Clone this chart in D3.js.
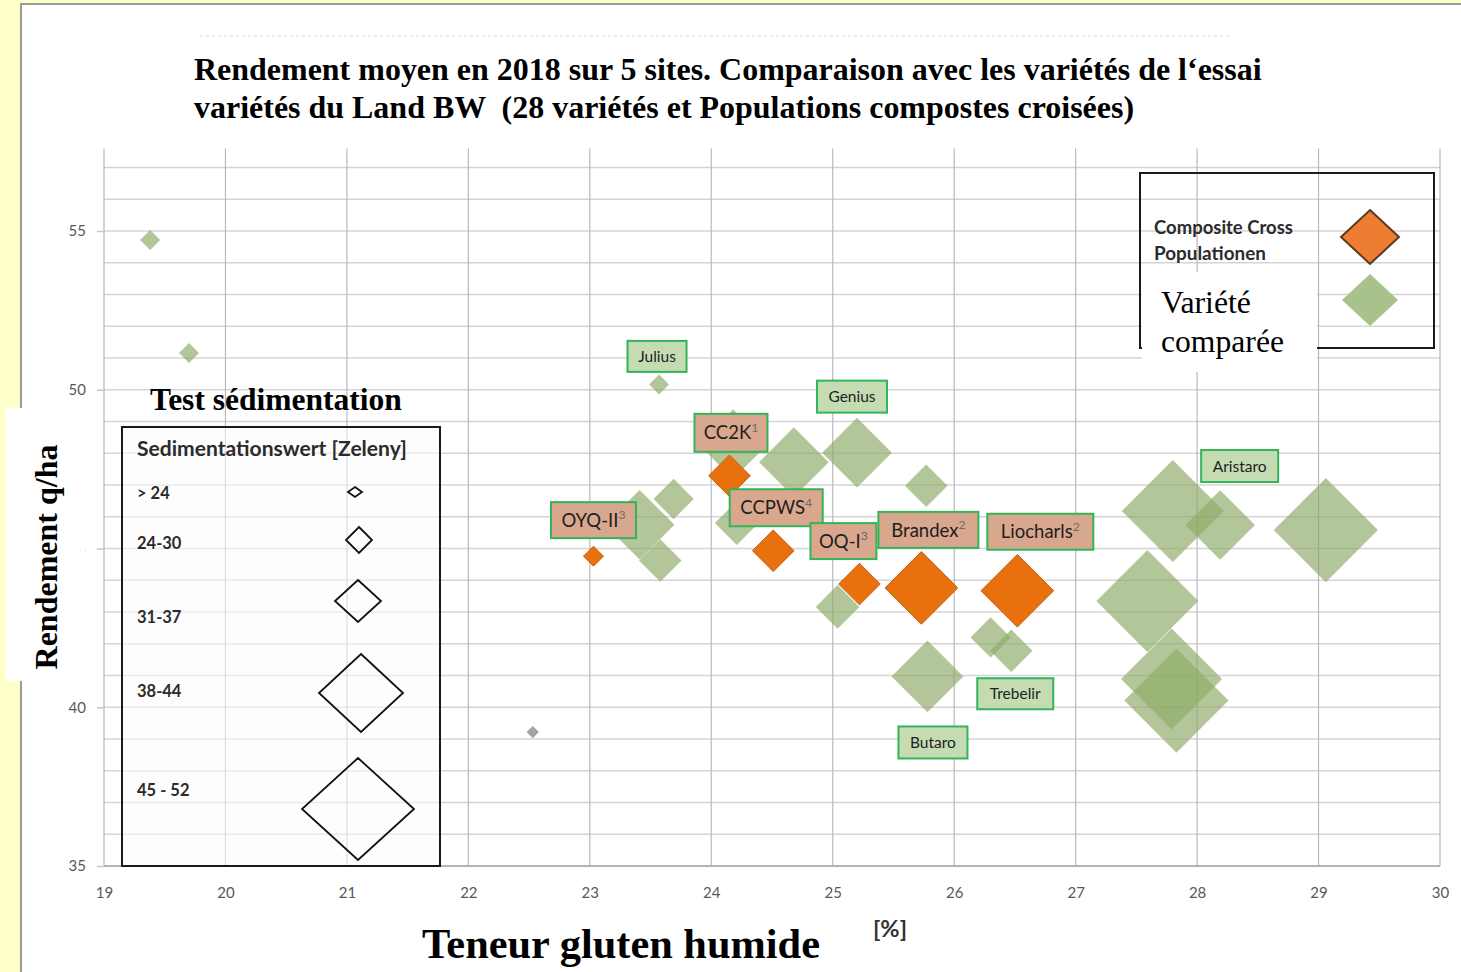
<!DOCTYPE html>
<html><head><meta charset="utf-8">
<script src="https://cdn.jsdelivr.net/npm/d3@7"></script>
<style>body{margin:0;background:#FFFFCC;overflow:hidden} svg{display:block}</style>
</head><body>
<svg id="c" width="1461" height="972"></svg>
<script>
// ---------- DATA ----------
const xTicks = [19,20,21,22,23,24,25,26,27,28,29,30];
const yGrid = d3.range(35, 58);
const yLabelTicks = [35,40,45,50,55];

// compared varieties (gluten %, yield q/ha, Zeleny sedimentation)
const varNames  = ["", "", "Julius", "", "", "", "", "", "", "Genius", "", "", "Butaro", "", "Trebelir", "", "", "Aristaro", "", "", ""];
const varGluten = [19.38, 19.70, 23.57, 23.41, 23.69, 23.58, 24.18, 24.21, 24.68, 25.20, 25.04, 25.77, 25.78, 26.30, 26.47, 27.59, 27.80, 28.19, 29.06, 27.79, 27.83];
const varYield  = [54.72, 51.16, 50.17, 45.75, 46.56, 44.62, 48.29, 45.80, 47.72, 48.02, 43.16, 46.98, 40.97, 42.20, 41.78, 43.35, 46.18, 45.74, 45.58, 40.89, 40.21];
const varSed    = [22, 22, 22, 33.5, 26.7, 27.2, 33.5, 27.5, 33.5, 33.5, 27.5, 27.2, 34, 26.7, 27.2, 41, 41, 33.5, 41.5, 40.8, 41.5];

// one grey point
const otherGluten = [22.53];
const otherYield  = [39.22];
const otherSed    = [20.2];

// Composite Cross populations
const ccNames  = ["OYQ-II", "CC2K", "CCPWS", "OQ-I", "Brandex", "Liocharls"];
const ccSup    = ["3", "1", "4", "3", "2", "2"];
const ccGluten = [23.03, 24.15, 24.51, 25.22, 25.73, 26.52];
const ccYield  = [44.76, 47.29, 44.93, 43.88, 43.76, 43.67];
const ccSed    = [22, 27, 27, 27, 34.2, 34.2];

const sedClasses = ["> 24", "24-30", "31-37", "38-44", "45 - 52"];

// ---------- LAYOUT / STYLE ----------
const svg = d3.select("#c");
const x = d3.scaleLinear().domain([19, 30]).range([104, 1440]);
const y = d3.scaleLinear().domain([35, 57.6]).range([866, 148.5]);
const half = d3.scaleLinear().domain([22, 41]).range([10, 51]);

// label boxes: [dx, dy, w, h] relative to marker centre
const labelLayout = {
  "Julius":[-2,-28,59,31], "Genius":[-5,-56,70,32], "Butaro":[5.5,66,69,32],
  "Trebelir":[4,43,76,31], "Aristaro":[19.5,-59,77,32],
  "OYQ-II":[0,-36,85,36], "CC2K":[1.5,-43,73,38], "CCPWS":[3,-43,93,37],
  "OQ-I":[-16,-43,66,36], "Brandex":[7,-58,100,36], "Liocharls":[23,-59,106,36]
};
const sans = "Lato, 'Open Sans', sans-serif";
const serif = "'Liberation Serif', 'Times New Roman', serif";
const diamond = (cx, cy, hw, hh) => `M${cx},${cy-hh}L${cx+hw},${cy}L${cx},${cy+hh}L${cx-hw},${cy}Z`;
function fit(sel, target) {
  const w = sel.node().getComputedTextLength();
  const fs = parseFloat(sel.attr("font-size"));
  sel.attr("font-size", (fs * target / w).toFixed(2));
}

// white panel
svg.append("rect").attr("x", 21).attr("y", 4).attr("width", 1460).attr("height", 990)
  .attr("fill", "#fff").attr("stroke", "#9a9a9a").attr("stroke-width", 2);

// faint dotted artefact line at top
svg.append("line").attr("x1", 200).attr("x2", 1230).attr("y1", 36).attr("y2", 36)
  .attr("stroke", "#d8d8d8").attr("stroke-dasharray", "3,3");

// grid
const g = svg.append("g");
g.selectAll(".hg").data(yGrid).join("line")
  .attr("x1", x(19)).attr("x2", x(30)).attr("y1", d => y(d)).attr("y2", d => y(d))
  .attr("stroke", "#d4d4d4").attr("stroke-width", 1.5);
g.selectAll(".vg").data(xTicks).join("line")
  .attr("x1", d => x(d)).attr("x2", d => x(d)).attr("y1", y(57.6)).attr("y2", y(35))
  .attr("stroke", "#b8b8b8").attr("stroke-width", 1.2);
g.append("line").attr("x1", x(19)).attr("x2", x(30)).attr("y1", y(35)).attr("y2", y(35))
  .attr("stroke", "#a6a6a6").attr("stroke-width", 1.5);

// axes (labels)
const ax = svg.append("g").attr("transform", `translate(0,${y(35)})`)
  .call(d3.axisBottom(x).tickValues(xTicks).tickSize(0).tickPadding(21));
const ay = svg.append("g").attr("transform", `translate(${x(19)},0)`)
  .call(d3.axisLeft(y).tickValues(yLabelTicks).tickSize(7).tickPadding(11));
[ax, ay].forEach(a => {
  a.select(".domain").remove();
  a.selectAll("text").attr("font-family", sans).attr("font-size", 15).attr("fill", "#595959");
  a.selectAll("line").attr("stroke", "#c8c8c8").attr("stroke-width", 1.5);
});

// sedimentation legend box
svg.append("rect").attr("x", 122).attr("y", 427).attr("width", 318).attr("height", 439)
  .attr("fill", "#fbfbfb").attr("fill-opacity", 0.55).attr("stroke", "#1a1a1a").attr("stroke-width", 2);
svg.append("text").attr("x", 137).attr("y", 456).attr("font-family", sans).attr("font-weight", 700)
  .attr("font-size", 17).attr("fill", "#2b2b2b").text("Sedimentationswert [Zeleny]").call(fit, 270);
const legRowY = [499, 549, 623, 697, 796];
const legDia = [[355,492,7,5],[359,540,13,13],[358,601,23,21],[361,693,42,39],[358,809,56,51]];
svg.selectAll(".lt").data(sedClasses).join("text")
  .attr("x", 137).attr("y", (d, i) => legRowY[i]).attr("font-family", sans).attr("font-weight", 700)
  .attr("font-size", 16.5).attr("fill", "#2b2b2b").text(d => d);
svg.selectAll(".ld").data(sedClasses).join("path")
  .attr("d", (d, i) => diamond(...legDia[i])).attr("fill", "none").attr("stroke", "#111").attr("stroke-width", 1.8);

svg.append("text").attr("x", 150).attr("y", 410).attr("font-family", serif).attr("font-weight", 700)
  .attr("font-size", 28).attr("fill", "#000").text("Test sédimentation").call(fit, 252);

// markers
const varData = varGluten.map((v, i) => ({x: v, y: varYield[i], s: varSed[i], name: varNames[i]}));
const otherData = otherGluten.map((v, i) => ({x: v, y: otherYield[i], s: otherSed[i]}));
const ccData = ccGluten.map((v, i) => ({x: v, y: ccYield[i], s: ccSed[i], name: ccNames[i], sup: ccSup[i]}));

svg.selectAll(".vd").data(varData).join("path")
  .attr("d", d => diamond(x(d.x), y(d.y), half(d.s), half(d.s)))
  .attr("fill", "#8fab68").attr("fill-opacity", 0.68);
svg.selectAll(".od").data(otherData).join("path")
  .attr("d", d => diamond(x(d.x), y(d.y), half(d.s), half(d.s)))
  .attr("fill", "#a3a3a3");
svg.selectAll(".cd").data(ccData).join("path")
  .attr("d", d => diamond(x(d.x), y(d.y), half(d.s), half(d.s)))
  .attr("fill", "#E8710E").attr("stroke", "#c05e12").attr("stroke-width", 1);

// data labels
function drawLabel(d, fill, fs) {
  const L = labelLayout[d.name];
  const cx = x(d.x) + L[0], cy = y(d.y) + L[1];
  svg.append("rect").attr("x", cx - L[2]/2).attr("y", cy - L[3]/2).attr("width", L[2]).attr("height", L[3])
    .attr("fill", fill).attr("stroke", "#33b45a").attr("stroke-width", 2);
  const t = svg.append("text").attr("x", cx).attr("y", cy + fs*0.36).attr("text-anchor", "middle")
    .attr("font-family", sans).attr("font-size", fs).attr("fill", "#1e1e1e");
  t.append("tspan").text(d.name);
  if (d.sup) t.append("tspan").attr("dy", -fs*0.42).attr("font-size", fs*0.66).attr("fill", "#6b6b6b").text(d.sup);
}
varData.filter(d => d.name).forEach(d => drawLabel(d, "#c5dcb2", 15.5));
ccData.forEach(d => drawLabel(d, "#d9a78d", 18.5));

// series legend
svg.append("rect").attr("x", 1140).attr("y", 173).attr("width", 294).attr("height", 175)
  .attr("fill", "none").attr("stroke", "#1a1a1a").attr("stroke-width", 2);
svg.append("text").attr("x", 1154).attr("y", 234).attr("font-family", sans).attr("font-weight", 700)
  .attr("font-size", 15.5).attr("fill", "#2b2b2b").text("Composite Cross").call(fit, 139);
svg.append("text").attr("x", 1154).attr("y", 260).attr("font-family", sans).attr("font-weight", 700)
  .attr("font-size", 15.5).attr("fill", "#2b2b2b").text("Populationen").call(fit, 112);
svg.append("path").attr("d", diamond(1370, 237, 29, 27)).attr("fill", "#ED7D31").attr("stroke", "#5a3a1f").attr("stroke-width", 2);
svg.append("path").attr("d", diamond(1370, 300, 28, 26)).attr("fill", "#a9c18b");
svg.append("rect").attr("x", 1142).attr("y", 272).attr("width", 175).attr("height", 100).attr("fill", "#fff");
svg.append("text").attr("x", 1161).attr("y", 313).attr("font-family", serif).attr("font-size", 28)
  .attr("fill", "#000").text("Variété").call(fit, 90);
svg.append("text").attr("x", 1161).attr("y", 352).attr("font-family", serif).attr("font-size", 28)
  .attr("fill", "#000").text("comparée").call(fit, 123);

// title
svg.append("text").attr("x", 194).attr("y", 80).attr("font-family", serif).attr("font-weight", 700)
  .attr("font-size", 27).attr("fill", "#000")
  .text("Rendement moyen en 2018 sur 5 sites. Comparaison avec les variétés de l‘essai").call(fit, 1068);
svg.append("text").attr("x", 194).attr("y", 118).attr("font-family", serif).attr("font-weight", 700)
  .attr("font-size", 27).attr("fill", "#000").attr("xml:space", "preserve")
  .style("white-space", "pre")
  .text("variétés du Land BW  (28 variétés et Populations compostes croisées)").call(fit, 940);

// y-axis title with white backing
svg.append("rect").attr("x", 6).attr("y", 408).attr("width", 79).attr("height", 273).attr("fill", "#fff");
svg.append("text").attr("transform", "translate(57,557) rotate(-90)").attr("text-anchor", "middle")
  .attr("font-family", serif).attr("font-weight", 700).attr("font-size", 26).attr("fill", "#000")
  .text("Rendement q/ha").call(fit, 225);

// x-axis title
svg.append("text").attr("x", 422).attr("y", 958).attr("font-family", serif).attr("font-weight", 700)
  .attr("font-size", 38).attr("fill", "#000").text("Teneur gluten humide").call(fit, 398);
svg.append("text").attr("x", 873).attr("y", 937).attr("font-family", sans).attr("font-weight", 700)
  .attr("font-size", 20).attr("fill", "#333").text("[%]").call(fit, 34);
</script>
</body></html>
